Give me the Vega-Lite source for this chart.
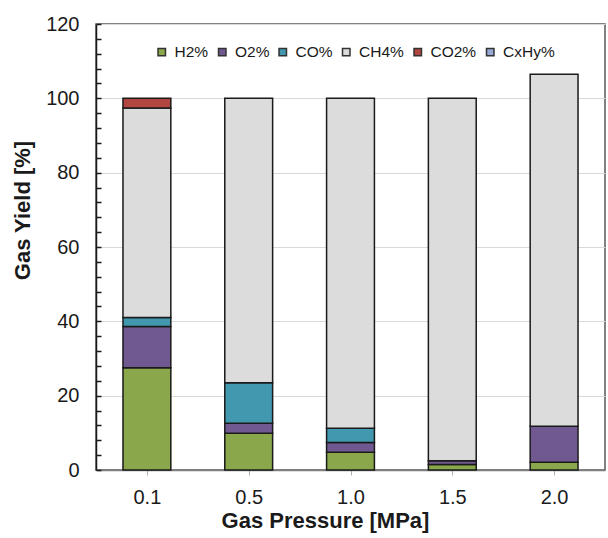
{
  "$schema": "https://vega.github.io/schema/vega-lite/v6.json",
  "width": 509,
  "height": 446,
  "autosize": {"type": "none"},
  "padding": {"left": 96, "top": 24, "right": 3, "bottom": 68},
  "background": "white",
  "config": {
    "font": "Liberation Sans",
    "view": {"stroke": "#595959", "strokeWidth": 1.5}
  },
  "data": {
    "values": [
      {"pressure": "0.1", "gas": "H2%", "value": 27.5},
      {"pressure": "0.1", "gas": "O2%", "value": 11.1},
      {"pressure": "0.1", "gas": "CO%", "value": 2.4},
      {"pressure": "0.1", "gas": "CH4%", "value": 56.4},
      {"pressure": "0.1", "gas": "CO2%", "value": 2.6},
      {"pressure": "0.5", "gas": "H2%", "value": 9.9},
      {"pressure": "0.5", "gas": "O2%", "value": 2.7},
      {"pressure": "0.5", "gas": "CO%", "value": 10.9},
      {"pressure": "0.5", "gas": "CH4%", "value": 76.5},
      {"pressure": "1.0", "gas": "H2%", "value": 4.8},
      {"pressure": "1.0", "gas": "O2%", "value": 2.6},
      {"pressure": "1.0", "gas": "CO%", "value": 3.8},
      {"pressure": "1.0", "gas": "CH4%", "value": 88.8},
      {"pressure": "1.5", "gas": "H2%", "value": 1.5},
      {"pressure": "1.5", "gas": "O2%", "value": 1.0},
      {"pressure": "1.5", "gas": "CH4%", "value": 97.5},
      {"pressure": "2.0", "gas": "H2%", "value": 2.1},
      {"pressure": "2.0", "gas": "O2%", "value": 9.7},
      {"pressure": "2.0", "gas": "CH4%", "value": 94.7}
    ]
  },
  "transform": [
    {"calculate": "indexof(['H2%','O2%','CO%','CH4%','CO2%','CxHy%'], datum.gas)", "as": "stackOrder"}
  ],
  "mark": {"type": "bar", "stroke": "#1a1a1a", "strokeWidth": 1.5},
  "encoding": {
    "x": {
      "field": "pressure",
      "type": "ordinal",
      "scale": {"paddingInner": 0.53, "paddingOuter": 0.265},
      "axis": {
        "title": "Gas Pressure [MPa]",
        "titleFontSize": 22,
        "titleFontWeight": "bold",
        "titleColor": "#1a1a1a",
        "titleX": 229,
        "titleY": 50,
        "titleBaseline": "middle",
        "titleAlign": "center",
        "titleAnchor": null,
        "labelAngle": 0,
        "labelFontSize": 20,
        "labelColor": "#1a1a1a",
        "labelPadding": 12,
        "domainColor": "#7f7f7f",
        "domainWidth": 1.5,
        "tickColor": "#b0b0b0",
        "tickSize": 5,
        "tickOffset": 0
      }
    },
    "y": {
      "field": "value",
      "type": "quantitative",
      "stack": "zero",
      "scale": {"domain": [0, 120], "nice": false},
      "axis": {
        "title": "Gas Yield [%]",
        "titleFontSize": 22,
        "titleFontWeight": "bold",
        "titleColor": "#1a1a1a",
        "titleX": -74,
        "titleY": 186,
        "titleAnchor": null,
        "titleBaseline": "middle",
        "titleAlign": "center",
        "values": [0, 4, 8, 12, 16, 20, 24, 28, 32, 36, 40, 44, 48, 52, 56, 60, 64, 68, 72, 76, 80, 84, 88, 92, 96, 100, 104, 108, 112, 116, 120],
        "labelExpr": "datum.value % 20 === 0 ? datum.label : ''",
        "labelFontSize": 20,
        "labelColor": "#1a1a1a",
        "labelPadding": 22,
        "labelFlush": false,
        "labelOverlap": false,
        "domainColor": "#1a1a1a",
        "domainWidth": 1.5,
        "tickColor": "#1a1a1a",
        "tickSize": -5,
        "tickWidth": 1.5,
        "grid": true,
        "gridColor": "#d9d9d9",
        "gridWidth": 1.2,
        "gridOpacity": {"condition": {"test": "datum.value % 20 === 0", "value": 1}, "value": 0}
      }
    },
    "order": {"field": "stackOrder", "type": "quantitative", "sort": "ascending"},
    "color": {
      "field": "gas",
      "type": "nominal",
      "sort": ["H2%", "O2%", "CO%", "CH4%", "CO2%", "CxHy%"],
      "scale": {
        "domain": ["H2%", "O2%", "CO%", "CH4%", "CO2%", "CxHy%"],
        "range": ["#8aa84b", "#705990", "#4198af", "#dcdcdc", "#b0463f", "#95a9d4"]
      },
      "legend": {
        "title": null,
        "orient": "none",
        "legendX": 58,
        "legendY": 20,
        "direction": "horizontal",
        "columns": 6,
        "columnPadding": 5.5,
        "symbolType": "square",
        "symbolSize": 56,
        "symbolStrokeColor": "#333333",
        "symbolStrokeWidth": 1.5,
        "symbolOpacity": 1,
        "labelFontSize": 15.5,
        "labelColor": "#1a1a1a",
        "labelOffset": 5
      }
    }
  }
}
